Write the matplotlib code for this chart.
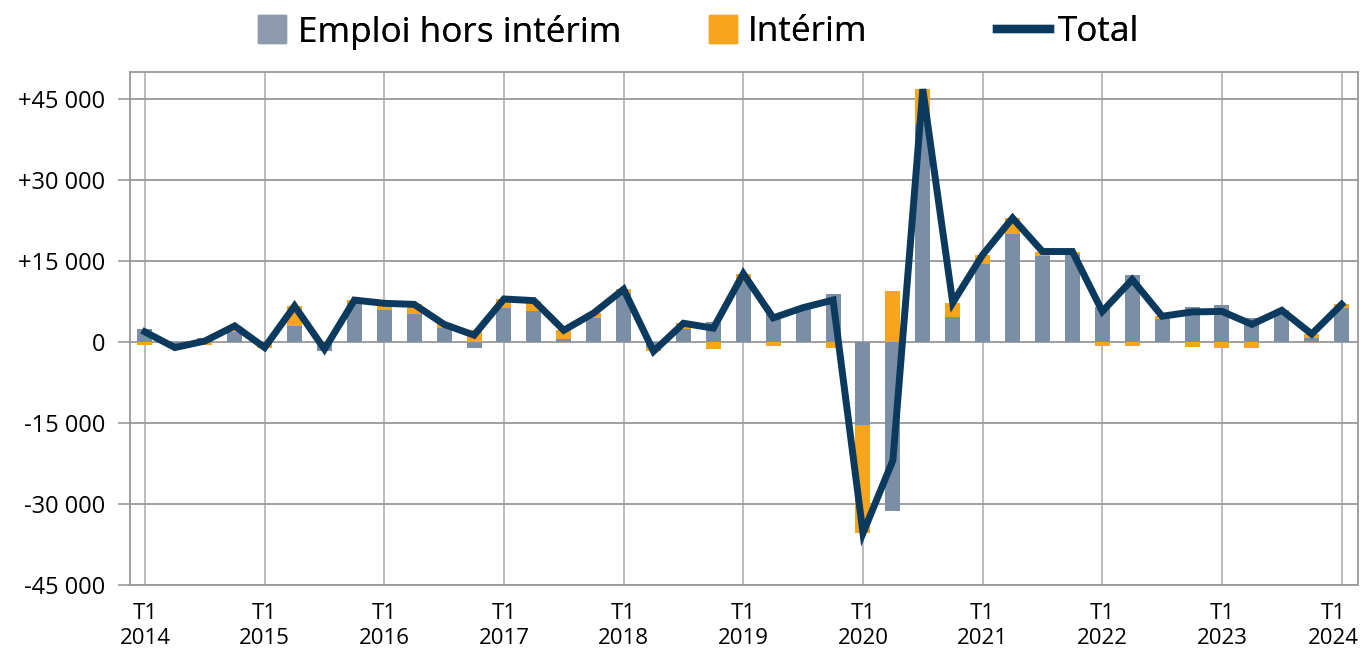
import numpy as np
import matplotlib
matplotlib.use('Agg')
import matplotlib.pyplot as plt
import matplotlib.transforms as mtransforms
from matplotlib.lines import Line2D

plt.rcParams['font.family'] = ['Open Sans', 'DejaVu Sans']

# quarterly values, T1 2014 .. T1 2024
quarters = ['T%d %d' % (q, y) for y in range(2014, 2025) for q in range(1, 5)][:41]
emploi_hors_interim = [2500, -800, 800, 1800, -300, 3000, -1600, 7300,
                       5900, 5300, 2700, -1000, 6300, 5800, 500, 4500,
                       9100, -1000, 2400, 3800, 11200, 5200, 6100, 8900,
                       -15400, -31300, 40500, 4600, 14500, 20000, 15900, 16300,
                       6500, 12400, 4300, 6500, 6800, 4400, 5700, 800,
                       6300]
interim = [-600, -200, -600, 1200, -700, 3700, 300, 500,
           1300, 1700, 600, 2300, 1700, 1900, 1700, 900,
           700, -700, 1100, -1200, 1500, -700, 300, -1100,
           -20000, 9400, 6400, 2700, 1700, 3000, 900, 500,
           -800, -800, 500, -900, -1100, -1100, 200, 700,
           700]
total = [a + b for a, b in zip(emploi_hors_interim, interim)]

tick_pos = list(range(0, 41, 4))
tick_labels = ['T1\n%d' % y for y in range(2014, 2025)]
y_ticks = [-45000, -30000, -15000, 0, 15000, 30000, 45000]
y_labels = ['-45 000', '-30 000', '-15 000', '0', '+15 000', '+30 000', '+45 000']

c_grey = '#7a8ea6'
c_orange = '#f7a51c'
c_navy = '#0c3a5f'

fig = plt.figure(figsize=(13.6, 6.58), dpi=100)
ax = fig.add_axes([0.0956, 0.111, 0.903, 0.779])

x = np.arange(len(quarters))
ehi = np.array(emploi_hors_interim)
itm = np.array(interim)
# stack orange on grey when same sign, otherwise start from zero
bottom_i = np.where(np.sign(itm) == np.sign(ehi), ehi, 0)

ax.bar(x, ehi, width=0.5, color=c_grey, zorder=2)
ax.bar(x, itm, width=0.5, bottom=bottom_i, color=c_orange, zorder=2)
ax.plot(x, total, color=c_navy, lw=5, solid_joinstyle='miter', zorder=3)

ax.set_xlim(-0.5, 40.55)
ax.set_ylim(-45000, 50000)
ax.set_yticks(y_ticks)
ax.set_yticklabels(y_labels)
ax.set_xticks(tick_pos)
ax.set_xticklabels(tick_labels, linespacing=1.25)
ax.tick_params(axis='y', length=9, width=1.2, color='#999999', pad=9, labelsize=17)
ax.tick_params(axis='x', length=0, pad=13, labelsize=16)

# last year label sits right at the figure edge
last = ax.get_xticklabels()[-1]
last.set_transform(last.get_transform() +
                   mtransforms.ScaledTranslation(-8 / 100, 0, fig.dpi_scale_trans))

ax.grid(axis='y', color='#999999', lw=1.3, zorder=0)
ax.grid(axis='x', color='#b5b5b5', lw=1.3, zorder=0)
for s in ax.spines.values():
    s.set_color('#999999')
    s.set_linewidth(1.3)

# legend: three separate entries placed like the original
fs = 25.3
entries = [
    (Line2D([], [], marker='s', ls='none', markersize=20, color='#8d99ad'),
     'Emploi hors intérim', 0.1926, 0.6, 0.42),
    (Line2D([], [], marker='s', ls='none', markersize=20, color=c_orange),
     'Intérim', 0.5235, 0.6, 0.42),
    (Line2D([], [], color=c_navy, lw=6), 'Total', 0.733, 1.5, 0.22),
]
for h, lab, x0, hl, pad in entries:
    leg = fig.legend([h], [lab], loc='center left', bbox_to_anchor=(x0, 0.951),
                     frameon=False, fontsize=fs, handlelength=hl,
                     handletextpad=pad, borderpad=0, borderaxespad=0)
    fig.add_artist(leg)

fig.savefig('out.png', dpi=100)
